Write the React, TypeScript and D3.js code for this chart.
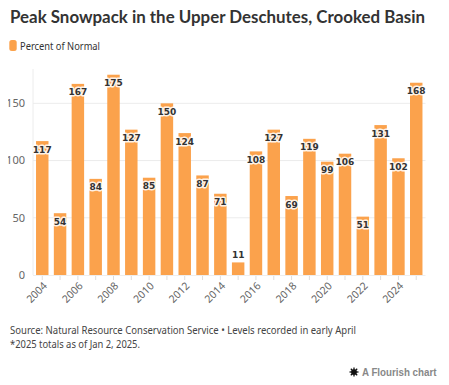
import React from "react";
import * as d3 from "d3";

const years = [2004,2005,2006,2007,2008,2009,2010,2011,2012,2013,2014,2015,2016,2017,2018,2019,2020,2021,2022,2023,2024,2025];
const values = [117,54,167,84,175,127,85,150,124,87,71,11,108,127,69,119,99,106,51,131,102,168];
const yTicks = [0,50,100,150];
const xTickLabels = [2004,2006,2008,2010,2012,2014,2016,2018,2020,2022,2024];

const W = 449, H = 385;
const FONT = "'Source Sans Pro', 'Noto Sans', sans-serif";

export default function App() {
  const left = 33, right = 425.5, top = 69, bottom = 275;
  const x = d3.scaleBand<number>().domain(years).range([left, right]).paddingInner(0.3).paddingOuter(0.17);
  const y = d3.scaleLinear().domain([0, 180]).range([bottom, top]);
  const bw = x.bandwidth();
  const color = "#fba24c";

  return (
    <div style={{ margin: -8 }}>
      <svg width={W} height={H} style={{ display: "block", background: "#fff" }}>
        <text x={10} y={23} fontFamily="Lato, 'Noto Sans', sans-serif" fontWeight={700} fontSize={16.5} fill="#333" textLength={415} lengthAdjust="spacingAndGlyphs">
          Peak Snowpack in the Upper Deschutes, Crooked Basin
        </text>
        <rect x={9.3} y={40} width={7.4} height={11} rx={2.5} fill={color} />
        <text x={20} y={49.5} fontFamily={FONT} fontSize={10.5} fill="#333" textLength={80} lengthAdjust="spacingAndGlyphs">Percent of Normal</text>

        {yTicks.filter(t => t > 0).map(t => (
          <line key={"g" + t} x1={left} x2={right} y1={y(t)} y2={y(t)} stroke="#ececec" strokeWidth={1} />
        ))}
        <line x1={left} x2={left} y1={top} y2={bottom} stroke="#ececec" strokeWidth={1} />
        {yTicks.map(t => (
          <text key={"yt" + t} x={25} y={y(t)} dy="0.35em" textAnchor="end" fontFamily={FONT} fontSize={11} fill="#666">{t}</text>
        ))}

        {years.map((yr, i) => {
          const v = values[i];
          const bx = x(yr)!;
          const by = y(v);
          const h = bottom - by;
          const cx = bx + bw / 2;
          const inside = h > 16;
          const ly = inside ? by + 11.5 : by - 4;
          return (
            <g key={yr}>
              <rect x={bx} y={by} width={bw} height={h} fill={color} />
              <line x1={cx} x2={cx} y1={bottom + 1} y2={bottom + 5} stroke="#ddd" strokeWidth={1} />
              <text x={cx} y={ly} textAnchor="middle" fontFamily="'DejaVu Sans', sans-serif" fontWeight={700} fontSize={9}
                fill="#333" stroke="rgba(255,255,255,0.85)" strokeWidth={3} paintOrder="stroke" strokeLinejoin="round">{v}</text>
            </g>
          );
        })}
        <line x1={left} x2={right} y1={bottom + 0.5} y2={bottom + 0.5} stroke="#eee" strokeWidth={1} />

        {xTickLabels.map(yr => {
          const cx = x(yr)! + bw / 2;
          return (
            <text key={"xl" + yr} transform={`translate(${cx + 3},${bottom + 9}) rotate(-45)`} textAnchor="end" dy="0.35em"
              fontFamily={FONT} fontSize={10.5} fill="#666">{yr}</text>
          );
        })}

        <text x={10} y={334} fontFamily={FONT} fontSize={10.5} fill="#444" textLength={346} lengthAdjust="spacingAndGlyphs">
          Source: Natural Resource Conservation Service • Levels recorded in early April
        </text>
        <text x={10} y={347.5} fontFamily={FONT} fontSize={10.5} fill="#444" textLength={130} lengthAdjust="spacingAndGlyphs">
          *2025 totals as of Jan 2, 2025.
        </text>

        <g transform="translate(354,372)" stroke="#111" strokeWidth={1.3}>
          {[0, 45, 90, 135].map(a => (
            <line key={a} x1={-4.5} x2={4.5} y1={0} y2={0} transform={`rotate(${a})`} />
          ))}
          <circle r={2.2} fill="#111" />
        </g>
        <text x={362} y={375.5} fontFamily="'Liberation Sans', Arial, sans-serif" fontWeight={700} fontSize={10} fill="#888" textLength={74.5} lengthAdjust="spacingAndGlyphs">
          A Flourish chart
        </text>
      </svg>
    </div>
  );
}
